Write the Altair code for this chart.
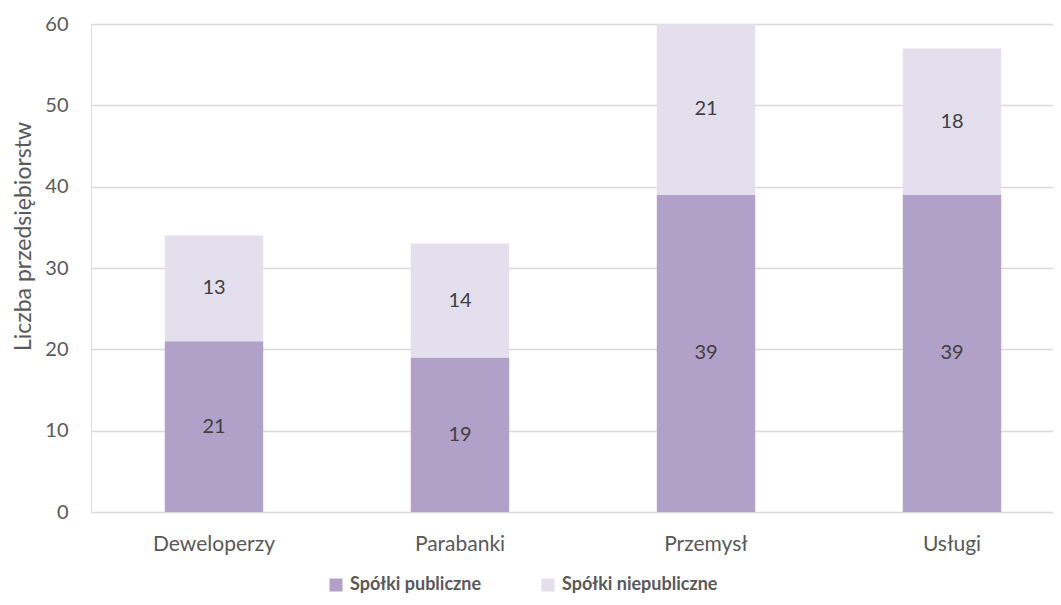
import altair as alt
import pandas as pd

categories = ["Deweloperzy", "Parabanki", "Przemysł", "Usługi"]
series = ["Spółki publiczne", "Spółki niepubliczne"]
publiczne = [21, 19, 39, 39]
niepubliczne = [13, 14, 21, 18]
colors = ["#B1A0C7", "#E4DFEC"]

rows = []
for i, c in enumerate(categories):
    rows.append({"cat": c, "series": series[0], "idx": 0, "value": publiczne[i]})
    rows.append({"cat": c, "series": series[1], "idx": 1, "value": niepubliczne[i]})
df = pd.DataFrame(rows)

FONT = "Lato"
GREY = "#595959"

base = alt.Chart(df).transform_stack(
    stack="value", groupby=["cat"], as_=["y0", "y1"],
    sort=[alt.SortField("idx", order="ascending")]
).transform_calculate(mid="(datum.y0 + datum.y1) / 2")

xscale = alt.Scale(paddingInner=0.6, paddingOuter=0.2553, align=0.5876)

xenc = alt.X("cat:N", sort=categories, title=None, scale=xscale,
             axis=alt.Axis(labelAngle=0, ticks=False, domain=False,
                           labelPadding=21, labelFontSize=21, labelColor=GREY,
                           labelFont=FONT))

bars = base.mark_bar().encode(
    x=xenc,
    y=alt.Y("y0:Q", scale=alt.Scale(domain=[0, 60], nice=False),
            title="Liczba przedsiębiorstw",
            axis=alt.Axis(values=[0, 10, 20, 30, 40, 50, 60], ticks=False, domain=False,
                          gridColor="#D9D9D9", gridWidth=1.3,
                          labelPadding=23, labelFontSize=20, labelColor=GREY, labelFont=FONT,
                          titleFontSize=23, titleColor=GREY, titleFont=FONT,
                          titleFontWeight="normal", titleAngle=-90,
                          titleX=-68, titleY=212, titleBaseline="middle", titleAlign="center")),
    y2="y1:Q",
    color=alt.Color("series:N", sort=series,
                    scale=alt.Scale(domain=series, range=colors),
                    legend=alt.Legend(title=None, orient="none", legendX=236, legendY=552,
                                      direction="horizontal", columns=2, symbolType="square",
                                      symbolSize=170, symbolStrokeWidth=0, symbolOpacity=1,
                                      labelFontSize=18, labelFontWeight="bold", labelColor=GREY,
                                      labelFont=FONT, labelOffset=5, columnPadding=57)),
)

labels = base.mark_text(fontSize=20, color="#404040", font=FONT, baseline="middle").encode(
    x=alt.X("cat:N", sort=categories, scale=xscale),
    y=alt.Y("mid:Q"),
    text=alt.Text("value:Q"),
)

chart = alt.layer(bars, labels).properties(
    width=962, height=488,
    autosize=alt.AutoSizeParams(type="none"),
    padding={"left": 83, "top": 16, "right": 0, "bottom": 85},
).configure_view(stroke=None).configure(background="white")

chart.save("out.html", embed_options={"renderer": "svg", "actions": False})
